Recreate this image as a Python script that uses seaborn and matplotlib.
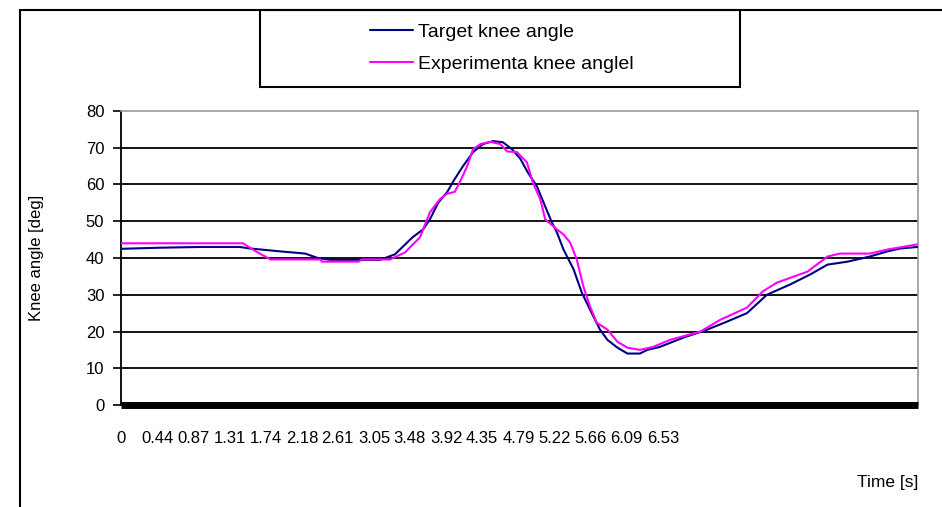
import numpy as np
import pandas as pd
import seaborn as sns
import matplotlib.pyplot as plt
from matplotlib.lines import Line2D
from matplotlib.patches import Rectangle

# values
target_t = [0.00, 0.47, 0.95, 1.43, 1.55, 1.92, 2.22, 2.37, 2.52, 3.12, 3.30, 3.51,
            3.64, 3.72, 3.82, 3.93, 4.02, 4.12, 4.24, 4.36, 4.48, 4.60, 4.71, 4.81,
            4.90, 5.01, 5.11, 5.19, 5.25, 5.33, 5.45, 5.55, 5.67, 5.77, 5.86, 5.98,
            6.10, 6.25, 6.34, 6.49, 6.77, 7.06, 7.30, 7.54, 7.78, 8.06, 8.30, 8.51,
            8.75, 9.02, 9.23, 9.39, 9.59]
target_angle = [42.5, 42.8, 43.0, 43.0, 42.6, 41.8, 41.2, 40.0, 39.5, 39.5, 41.0, 45.6,
                47.8, 50.5, 55.0, 58.0, 61.5, 65.0, 68.8, 71.0, 71.8, 71.5, 69.6, 67.0,
                63.3, 59.5, 54.0, 49.7, 47.0, 42.3, 37.0, 30.6, 25.0, 20.5, 17.7, 15.6,
                14.0, 14.0, 15.0, 15.8, 18.3, 20.5, 22.7, 25.0, 30.0, 32.8, 35.5, 38.2,
                39.0, 40.4, 41.8, 42.6, 43.0]

exp_t = [0.00, 1.47, 1.61, 1.80, 2.40, 2.42, 2.86, 2.90, 3.24, 3.42, 3.60, 3.72,
         3.84, 3.93, 4.02, 4.08, 4.17, 4.24, 4.33, 4.45, 4.57, 4.65, 4.77, 4.89,
         4.96, 5.05, 5.11, 5.25, 5.33, 5.41, 5.49, 5.57, 5.65, 5.73, 5.86, 5.98,
         6.10, 6.25, 6.41, 6.61, 6.98, 7.22, 7.54, 7.73, 7.90, 8.27, 8.51, 8.66,
         9.02, 9.23, 9.59]
exp_angle = [44.0, 44.0, 42.0, 39.6, 39.6, 39.0, 39.0, 39.6, 39.6, 41.5, 45.6, 52.4,
             56.0, 57.5, 58.0, 60.6, 65.0, 69.6, 71.0, 71.6, 71.0, 69.0, 68.8, 66.0,
             60.6, 56.0, 50.5, 47.8, 46.4, 44.2, 39.6, 32.2, 26.8, 22.4, 20.5, 17.2,
             15.6, 15.0, 15.8, 17.7, 20.0, 23.2, 26.5, 30.9, 33.3, 36.3, 40.4, 41.2,
             41.2, 42.3, 43.7]

tick_labels = ['0', '0.44', '0.87', '1.31', '1.74', '2.18', '2.61', '3.05', '3.48',
               '3.92', '4.35', '4.79', '5.22', '5.66', '6.09', '6.53']
series_names = ['Target knee angle', 'Experimenta knee anglel']

df = pd.concat([
    pd.DataFrame({'t': target_t, 'angle': target_angle, 'series': series_names[0]}),
    pd.DataFrame({'t': exp_t, 'angle': exp_angle, 'series': series_names[1]}),
])

sns.set_style('white')
plt.rcParams['font.family'] = ['Liberation Sans', 'DejaVu Sans']
plt.rcParams['text.color'] = 'black'
plt.rcParams['axes.labelcolor'] = 'black'
plt.rcParams['xtick.color'] = 'black'
plt.rcParams['ytick.color'] = 'black'

fig = plt.figure(figsize=(9.42, 5.07), dpi=100)
ax = fig.add_axes([121 / 942, 102 / 507, 797 / 942, 294 / 507])

# gridlines
for v in range(10, 80, 10):
    ax.axhline(v, color='black', linewidth=1.3, zorder=1)

sns.lineplot(data=df, x='t', y='angle', hue='series', palette=['#000080', '#ff00ff'],
             estimator=None, sort=False, linewidth=1.5, legend=False, ax=ax, zorder=3)

ax.set_xlim(0, 9.60)
ax.set_ylim(0, 80)
ax.set_yticks(range(0, 81, 10))
ax.set_xticks([float(s) for s in tick_labels])
ax.set_xticklabels(tick_labels)
ax.tick_params(axis='x', length=0, pad=19, labelsize=12)
ax.tick_params(axis='y', length=6, width=1.2, color='black', pad=6, labelsize=12, left=True)
ax.set_xlabel('')
ax.set_ylabel('Knee angle [deg]', fontsize=12, labelpad=30)

for side in ['top', 'right']:
    ax.spines[side].set_color('#999999')
    ax.spines[side].set_linewidth(1.2)
ax.spines['left'].set_color('black')
ax.spines['left'].set_linewidth(1.3)
ax.spines['bottom'].set_color('black')
ax.spines['bottom'].set_linewidth(5)
ax.spines['bottom'].set_capstyle('butt')

fig.text(918 / 942, 1 - 482 / 507, 'Time [s]', ha='right', va='center', fontsize=12.5)

# outer chart frame
fig.add_artist(Line2D([20 / 942, 20 / 942], [0, 1 - 10 / 507], color='black', linewidth=1.5))
fig.add_artist(Line2D([20 / 942, 1], [1 - 10 / 507, 1 - 10 / 507], color='black', linewidth=1.5))

# legend box
fig.add_artist(Rectangle((260 / 942, 1 - 87 / 507), 480 / 942, 77 / 507,
                         fill=False, edgecolor='black', linewidth=1.5))
handles = [Line2D([0], [0], color='#000080', linewidth=1.5),
           Line2D([0], [0], color='#ff00ff', linewidth=1.5)]
fig.legend(handles, series_names, loc='center', bbox_to_anchor=(502 / 942, 1 - 48 / 507),
           frameon=False, fontsize=14, handlelength=2.2, handletextpad=0.3,
           labelspacing=0.75)

fig.savefig('out.png', dpi=100)
